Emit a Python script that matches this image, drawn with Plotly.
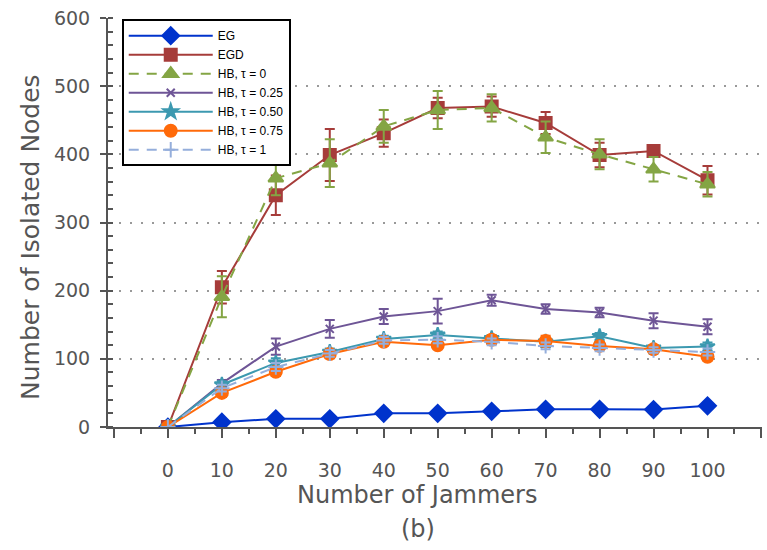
import plotly.graph_objects as go

jammers = [0, 10, 20, 30, 40, 50, 60, 70, 80, 90, 100]

eg = [0, 7, 12, 12, 20, 20, 23, 26, 26, 25.5, 31]
eg_err = [0, 2, 2, 2, 3, 2, 2, 3, 2, 2, 3]

egd = [0, 205, 340, 399, 431, 468, 470, 446, 399, 405, 362]
egd_err = [0, 24, 29, 38, 20, 15, 15, 16, 18, 5, 21]

hb0 = [0, 191, 365, 387, 441, 465, 468, 425, 400, 378, 356]
hb0_err = [0, 30, 25, 35, 24, 28, 20, 23, 22, 18, 18]

hb025 = [0, 64, 118, 144, 162, 170, 186, 173, 168, 156, 147]
hb025_err = [0, 5, 12, 13, 11, 18, 8, 7, 7, 11, 11]

hb050 = [0, 62, 94, 110, 129, 135, 130, 125, 133, 116, 118]
hb050_err = [0, 5, 7, 5, 5, 5, 5, 5, 5, 4, 6]

hb075 = [0, 50, 81, 107, 125, 120, 128, 126, 119, 114, 103]
hb075_err = [0, 6, 6, 6, 5, 5, 6, 8, 5, 5, 5]

hb1 = [0, 57, 88, 108, 127, 128, 125, 119, 116, 113, 110]
hb1_err = [0, 5, 6, 5, 5, 5, 5, 5, 5, 4, 5]

names = ["EG", "EGD", "HB, τ = 0", "HB, τ = 0.25", "HB, τ = 0.50", "HB, τ = 0.75", "HB, τ = 1"]
series = [eg, egd, hb0, hb025, hb050, hb075, hb1]
errors = [eg_err, egd_err, hb0_err, hb025_err, hb050_err, hb075_err, hb1_err]
colors = ["#0033cc", "#a63c3a", "#84a544", "#6e5596", "#3c99b0", "#ff6a0a", "#95aedb"]
symbols = ["diamond", "square", "triangle-up", "x-thin", "star", "circle", "cross-thin"]
sizes = [13, 12, 13, 8, 11, 12, 11]
dashes = ["solid", "solid", "10px,8px", "solid", "solid", "solid", "10px,8px"]

fig = go.Figure()
for n, s, e, c, sym, sz, d in zip(names, series, errors, colors, symbols, sizes, dashes):
    fig.add_trace(go.Scatter(
        x=jammers, y=s, name=n, mode="lines+markers",
        line=dict(color=c, width=2, dash=d),
        marker=dict(symbol=sym, size=sz, color=c, line=dict(color=c, width=2)),
        error_y=dict(type="data", array=e, visible=True, color=c, thickness=2, width=5),
    ))

tick_font = dict(family="DejaVu Sans, sans-serif", size=19, color="#555555")
title_font = dict(family="DejaVu Sans, sans-serif", size=24, color="#555555")

fig.update_layout(
    width=767, height=550,
    margin=dict(l=108, r=5, t=18, b=123),
    plot_bgcolor="white", paper_bgcolor="white",
    showlegend=True,
    legend=dict(
        x=0.021, y=0.997, xanchor="left", yanchor="top",
        bordercolor="black", borderwidth=2, bgcolor="white",
        font=dict(family="Liberation Sans, Arial, sans-serif", size=12, color="black"),
        tracegroupgap=0, itemwidth=84, entrywidth=180, entrywidthmode="pixels",
    ),
    xaxis=dict(
        range=[-11.1, 110.1],
        tickvals=[-10, 0, 10, 20, 30, 40, 50, 60, 70, 80, 90, 100, 110],
        ticktext=["", "0", "10", "20", "30", "40", "50", "60", "70", "80", "90", "100", ""],
        ticks="outside", ticklen=9, tickwidth=2, tickcolor="#555555",
        minor=dict(dtick=5, tick0=0, ticks="outside", ticklen=5, tickwidth=2, tickcolor="#555555"),
        showline=True, linecolor="#555555", linewidth=2,
        showgrid=False, zeroline=False,
        tickfont=tick_font, ticklabelstandoff=16,
    ),
    yaxis=dict(
        range=[0, 600], dtick=100,
        ticks="outside", ticklen=6, tickwidth=2, tickcolor="#555555",
        minor=dict(dtick=20, ticks="inside", ticklen=5, tickwidth=2, tickcolor="#555555", showgrid=False),
        showline=True, linecolor="#555555", linewidth=2,
        showgrid=True, gridcolor="#999999", gridwidth=1.5, griddash="2px,9px",
        zeroline=False,
        tickfont=tick_font, ticklabelstandoff=6,
    ),
    annotations=[
        dict(text="Number of Jammers", xref="paper", yref="paper", x=(417 - 108) / 654, y=(427 - 495) / 409,
             xanchor="center", yanchor="middle", showarrow=False, font=title_font),
        dict(text="(b)", xref="paper", yref="paper", x=(418 - 108) / 654, y=(427 - 529) / 409,
             xanchor="center", yanchor="middle", showarrow=False, font=title_font),
        dict(text="Number of Isolated Nodes", xref="paper", yref="paper", x=(30 - 108) / 654, y=(427 - 237) / 409,
             xanchor="center", yanchor="middle", showarrow=False, textangle=-90,
             font=dict(family="DejaVu Sans, sans-serif", size=25, color="#555555")),
    ],
)

fig.write_html("out.html")
